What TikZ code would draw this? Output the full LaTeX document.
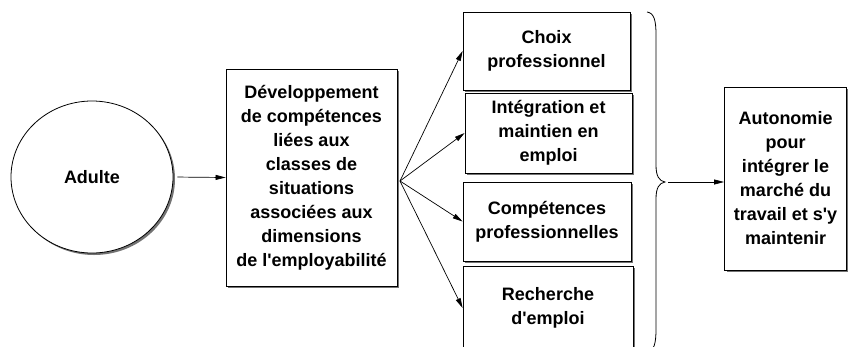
\documentclass[tikz,border=0pt]{standalone}
\usepackage{fontspec}
\setmainfont{Liberation Sans}
\usetikzlibrary{shadows,arrows.meta,shapes.geometric}
\newcommand{\apo}{\textquotesingle}
\begin{document}
\begin{tikzpicture}[x=1pt,y=-1pt,
  shad/.style={drop shadow={shadow xshift=2pt,shadow yshift=-2pt,fill=black!55,opacity=1}},
  box/.style={draw,line width=0.8pt,fill=white,shad,inner sep=0pt,align=center,
    font=\bfseries\fontsize{18}{24}\selectfont},
  arr/.style={line width=0.7pt,-{Triangle[length=10pt,width=5pt]}}]
\useasboundingbox (0,0) rectangle (848,346);
\clip (0,0) rectangle (848,346);
\node[box,ellipse,minimum width=162pt,minimum height=152pt] (adulte) at (92,177) {Adulte};
\node[box,minimum width=171pt,minimum height=217pt] (mid) at (311.5,177.5)
  {Développement\\de compétences\\liées aux\\classes de\\situations\\associées aux\\dimensions\\de l\apo employabilité};
\node[box,minimum width=167pt,minimum height=78pt] (b1) at (546.5,51) {Choix\\professionnel};
\node[box,minimum width=167pt,minimum height=80pt] (b2) at (548.5,133) {Intégration et\\maintien en\\emploi};
\node[box,minimum width=168pt,minimum height=79pt] (b3) at (547,221.5) {Compétences\\professionnelles};
\node[box,minimum width=170pt,minimum height=84pt] (b4) at (548,308) {Recherche\\d\apo emploi};
\node[box,minimum width=122pt,minimum height=183pt] (auto) at (785.5,178.5)
  {Autonomie\\pour\\intégrer le\\marché du\\travail et s\apo y\\maintenir};
\coordinate (fan) at (400,181);
\coordinate (btip) at (665,182);
\draw[arr,shorten <=4pt] (adulte.east) -- (mid.west);
\draw[arr] (fan) -- (b1.west);
\draw[arr] (fan) -- (b2.west);
\draw[arr] (fan) -- (b3.west);
\draw[arr] (fan) -- (b4.west);
\draw[line width=0.8pt] (647,12) .. controls (654,13) and (656,20) .. (656,35) -- (656,165)
  .. controls (656,176) and (659,181) .. (btip) .. controls (659,183) and (656,188) .. (656,199)
  -- (656,329) .. controls (656,344) and (654,351) .. (647,352);
\draw[arr,shorten <=3pt] (btip) -- (auto.west |- btip);
\end{tikzpicture}
\end{document}
